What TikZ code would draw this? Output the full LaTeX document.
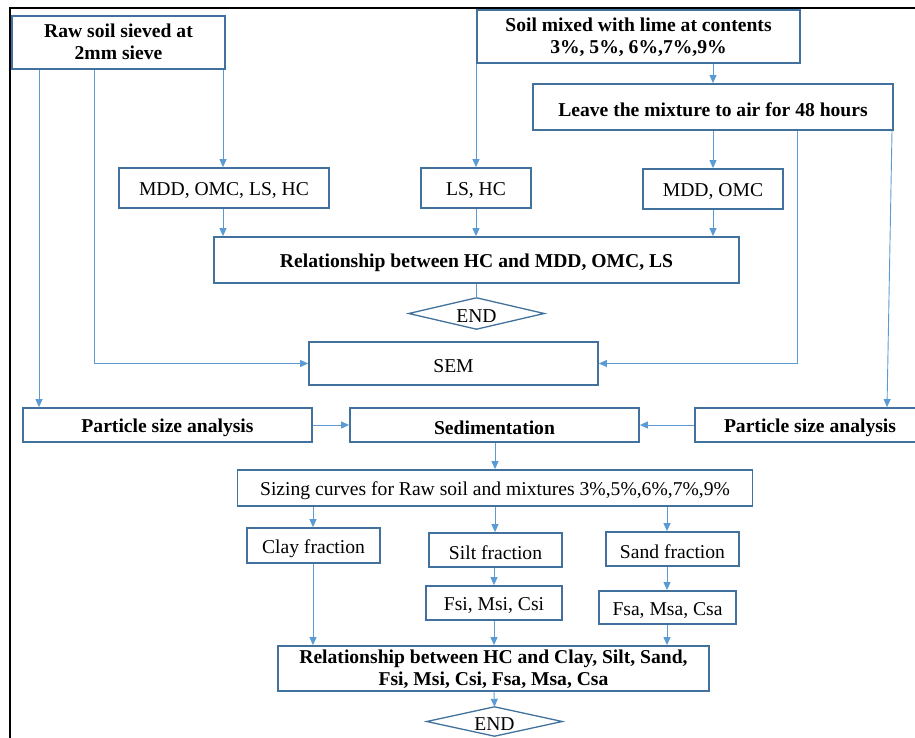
\documentclass[tikz,border=0pt]{standalone}
\usepackage{fontspec}
\setmainfont{Liberation Serif}
\usetikzlibrary{arrows.meta}
\definecolor{boxc}{HTML}{41719C}
\definecolor{linec}{HTML}{5B9BD5}
\newcommand\dn[1]{\raisebox{-3pt}[\height][\depth]{#1}}
\newcommand\dnn[1]{\raisebox{-1.5pt}[\height][\depth]{\begin{tabular}{@{}c@{}}#1\end{tabular}}}
\begin{document}
\begin{tikzpicture}[x=1pt,y=-1pt,
  every node/.style={font=\fontsize{19.6}{22.5}\selectfont, align=center, inner sep=0pt},
  box/.style={draw=boxc, line width=1.8pt, fill=white, minimum width=#1},
  bbox/.style={box=#1, font=\fontsize{19.6}{22.5}\selectfont\bfseries},
  conn/.style={draw=linec, line width=0.9pt, -{Triangle[length=8pt,width=7pt]}},
  plain/.style={draw=linec, line width=0.9pt},
  dia/.style={draw=boxc, line width=1.3pt}
]
\useasboundingbox (0,0) rectangle (915,738);
\draw[black, line width=1.2pt] (10,738) -- (10,8) -- (915,8);

% nodes
\node[bbox=213, minimum height=53] (raw) at (118.5,42.5) {\dnn{Raw soil sieved at\\2mm sieve}};
\node[bbox=323, minimum height=53] (mix) at (638.5,36.5) {\dnn{Soil mixed with lime at contents\\3\%, 5\%, 6\%,7\%,9\%}};
\node[bbox=360, minimum height=46] (leave) at (713,107) {\dn{Leave the mixture to air for 48 hours}};
\node[box=210, minimum height=40] (mdd4) at (224,188) {\dn{MDD, OMC, LS, HC}};
\node[box=110, minimum height=40] (lshc) at (476,188) {\dn{LS, HC}};
\node[box=140, minimum height=40] (mddomc) at (713,189) {\dn{MDD, OMC}};
\node[bbox=525, minimum height=46] (rel1) at (476.5,260) {\dn{Relationship between HC and MDD, OMC, LS}};
\node[minimum width=135, minimum height=31] (end1) at (476.5,313.5) {};
\draw[dia] (end1.west) -- (end1.north) -- (end1.east) -- (end1.south) -- cycle;
\node (end1t) at (end1.center) {\dn{END}};
\node[box=289, minimum height=43] (sem) at (453.5,363.5) {\dn{SEM}};
\node[bbox=289, minimum height=34] (psaL) at (167.5,425) {\dn{Particle size analysis}};
\node[bbox=289, minimum height=34] (sed) at (494.5,425) {\dn{Sedimentation}};
\node[bbox=230, minimum height=34] (psaR) at (810,425) {\dn{Particle size analysis}};
\node[box=515, minimum height=36] (size) at (495,488) {\dn{Sizing curves for Raw soil and mixtures 3\%,5\%,6\%,7\%,9\%}};
\node[box=133, minimum height=35] (clay) at (313.5,545.5) {\dn{Clay fraction}};
\node[box=133, minimum height=34] (silt) at (495.5,550) {\dn{Silt fraction}};
\node[box=133, minimum height=34] (sand) at (672.5,549) {\dn{Sand fraction}};
\node[box=136, minimum height=34] (fsi) at (494,603) {\dn{Fsi, Msi, Csi}};
\node[box=137, minimum height=33] (fsa) at (667.5,607.5) {\dn{Fsa, Msa, Csa}};
\node[bbox=431, minimum height=45] (rel2) at (493.5,668.5) {\dnn{Relationship between HC and Clay, Silt, Sand,\\Fsi, Msi, Csi, Fsa, Msa, Csa}};
\node[minimum width=135, minimum height=29] (end2) at (494.5,721.5) {};
\draw[dia] (end2.west) -- (end2.north) -- (end2.east) -- (end2.south) -- cycle;
\node (end2t) at (end2.center) {\dn{END}};

% x positions of connectors
\coordinate (x39) at (39,0);
\coordinate (x94) at (94,0);
\coordinate (x223) at (223,0);
\coordinate (x313) at (313,0);
\coordinate (x476) at (476,0);
\coordinate (x494) at (494,0);
\coordinate (x495) at (495,0);
\coordinate (x667) at (667,0);
\coordinate (x713) at (713,0);
\coordinate (x797) at (797,0);
\coordinate (x887) at (887,0);
\coordinate (x892) at (892,0);

% connectors
\draw[conn] (raw.south -| x223) -- (mdd4.north -| x223);
\draw[conn] (raw.south -| x39) -- (psaL.north -| x39);
\draw[conn] (raw.south -| x94) |- (sem.west);
\draw[conn] (mix.south -| x476) -- (lshc.north -| x476);
\draw[conn] (mix.south -| x713) -- (leave.north -| x713);
\draw[conn] (leave.south -| x713) -- (mddomc.north -| x713);
\draw[conn] (leave.south -| x797) |- (sem.east);
\draw[conn] (leave.south -| x892) -- (psaR.north -| x887);
\draw[conn] (mdd4.south -| x223) -- (rel1.north -| x223);
\draw[conn] (lshc.south -| x476) -- (rel1.north -| x476);
\draw[conn] (mddomc.south -| x713) -- (rel1.north -| x713);
\draw[plain] (rel1.south -| end1.north) -- (end1.north);
\draw[conn] (psaL.east) -- (sed.west);
\draw[conn] (psaR.west) -- (sed.east);
\draw[conn] (sed.south -| x495) -- (size.north -| x495);
\draw[conn] (size.south -| x313) -- (clay.north -| x313);
\draw[conn] (size.south -| x495) -- (silt.north -| x495);
\draw[conn] (size.south -| x667) -- (sand.north -| x667);
\draw[conn] (silt.south -| x494) -- (fsi.north -| x494);
\draw[conn] (sand.south -| x667) -- (fsa.north -| x667);
\draw[conn] (clay.south -| x313) -- (rel2.north -| x313);
\draw[conn] (fsi.south -| x494) -- (rel2.north -| x494);
\draw[conn] (fsa.south -| x667) -- (rel2.north -| x667);
\draw[conn] (rel2.south -| x494) -- (end2.north);
\end{tikzpicture}
\end{document}
